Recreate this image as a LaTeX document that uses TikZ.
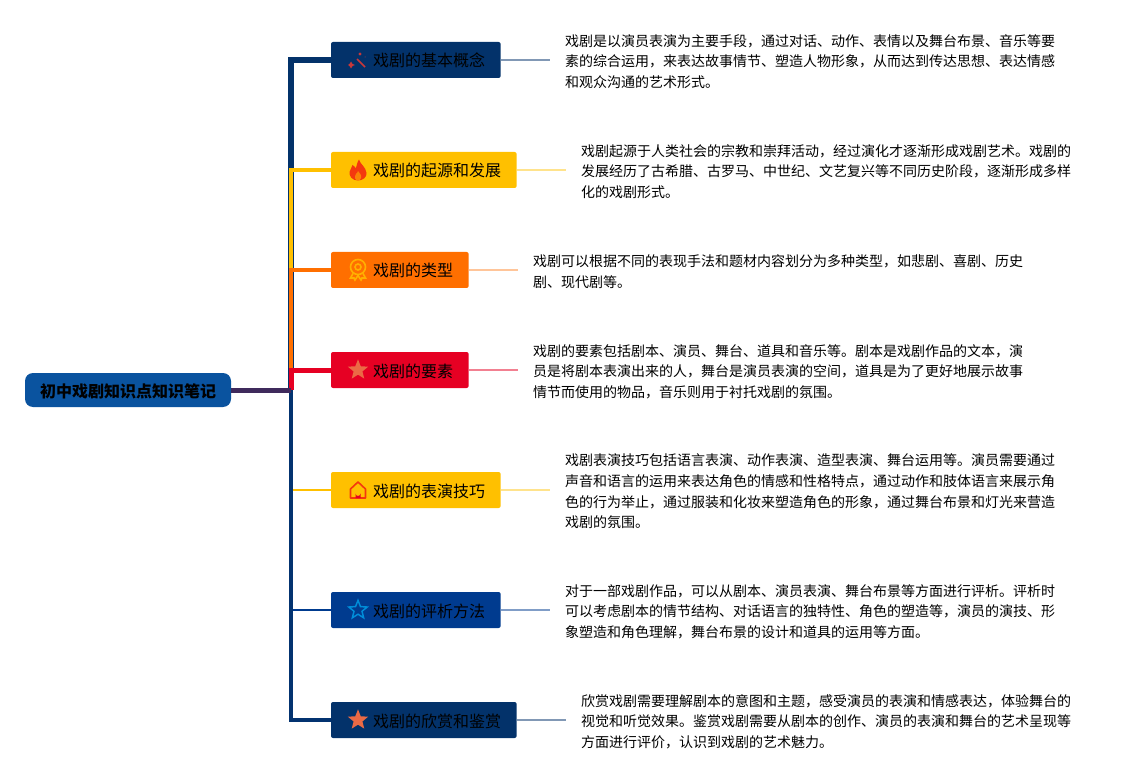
\documentclass[tikz,border=0pt]{standalone}
\usepackage{fontspec}
\setmainfont{Noto Sans CJK SC}
\usepackage{xcolor}
\usetikzlibrary{shapes.geometric,positioning,calc}

\definecolor{rootblue}{HTML}{0A539F}
\definecolor{navy}{HTML}{03326A}
\definecolor{cobalt}{HTML}{003B8F}
\definecolor{amber}{HTML}{FFC000}
\definecolor{tangerine}{HTML}{FF6F00}
\definecolor{crimson}{HTML}{E60023}
\definecolor{plum}{HTML}{3F2A5C}
\definecolor{flame}{HTML}{F4380E}
\definecolor{coral}{HTML}{EB6A45}
\definecolor{wandred}{HTML}{C8383A}

\begin{document}
\begin{tikzpicture}[
			x=0.75pt,
			y=-0.75pt,
			line join=miter,
			rootbox/.style={rounded corners=6pt, fill=rootblue, minimum height=25.5pt, text height=12pt, text depth=1.5pt, inner xsep=11.25pt, inner ysep=0pt, outer sep=0pt, font=\fontsize{12pt}{14pt}\selectfont\bfseries},
			topicbox/.style={rounded corners=1.5pt, fill=#1, minimum height=27pt, text height=12pt, text depth=1.5pt, inner xsep=11.7pt, inner ysep=0pt, outer sep=0pt, font=\fontsize{12pt}{14pt}\selectfont, execute at begin node={\hspace*{19.8pt}}},
			notetext/.style={align=left, yshift=-1.1pt, inner xsep=11.6pt, inner ysep=0pt, outer sep=0pt, font=\fontsize{10.5pt}{15.4pt}\selectfont},
			iconstar/.style={star, star points=5, star point ratio=2.3, inner sep=0pt, minimum size=16pt},
			leaf/.style={draw=#1, line width=1.5pt}
		]
		\useasboundingbox (0,0) rectangle (1141,780);

		\node[rootbox] (root) at (128,390) {初中戏剧知识点知识笔记};
		\coordinate (junction) at (291,390);

		\node[topicbox=navy, anchor=west] (concept) at (331,60) {戏剧的基本概念};
		\node[topicbox=amber, anchor=west] (origin) at (331,170) {戏剧的起源和发展};
		\node[topicbox=tangerine, anchor=west] (genre) at (331,270) {戏剧的类型};
		\node[topicbox=crimson, anchor=west] (element) at (331,370) {戏剧的要素};
		\node[topicbox=amber, anchor=west] (skill) at (331,490) {戏剧的表演技巧};
		\node[topicbox=cobalt, anchor=west] (review) at (331,610) {戏剧的评析方法};
		\node[topicbox=navy, anchor=west] (appreciate) at (331,720) {戏剧的欣赏和鉴赏};

		\node[notetext, right=36.75pt of concept] (conceptnote) {
			戏剧是以演员表演为主要手段，通过对话、动作、表情以及舞台布景、音乐等要\\
			素的综合运用，来表达故事情节、塑造人物形象，从而达到传达思想、表达情感\\
			和观众沟通的艺术形式。
		};
		\node[notetext, right=36.75pt of origin] (originnote) {
			戏剧起源于人类社会的宗教和崇拜活动，经过演化才逐渐形成戏剧艺术。戏剧的\\
			发展经历了古希腊、古罗马、中世纪、文艺复兴等不同历史阶段，逐渐形成多样\\
			化的戏剧形式。
		};
		\node[notetext, right=36.75pt of genre] (genrenote) {
			戏剧可以根据不同的表现手法和题材内容划分为多种类型，如悲剧、喜剧、历史\\
			剧、现代剧等。
		};
		\node[notetext, right=36.75pt of element] (elementnote) {
			戏剧的要素包括剧本、演员、舞台、道具和音乐等。剧本是戏剧作品的文本，演\\
			员是将剧本表演出来的人，舞台是演员表演的空间，道具是为了更好地展示故事\\
			情节而使用的物品，音乐则用于衬托戏剧的氛围。
		};
		\node[notetext, right=36.75pt of skill] (skillnote) {
			戏剧表演技巧包括语言表演、动作表演、造型表演、舞台运用等。演员需要通过\\
			声音和语言的运用来表达角色的情感和性格特点，通过动作和肢体语言来展示角\\
			色的行为举止，通过服装和化妆来塑造角色的形象，通过舞台布景和灯光来营造\\
			戏剧的氛围。
		};
		\node[notetext, right=36.75pt of review] (reviewnote) {
			对于一部戏剧作品，可以从剧本、演员表演、舞台布景等方面进行评析。评析时\\
			可以考虑剧本的情节结构、对话语言的独特性、角色的塑造等，演员的演技、形\\
			象塑造和角色理解，舞台布景的设计和道具的运用等方面。
		};
		\node[notetext, right=36.75pt of appreciate] (appreciatenote) {
			欣赏戏剧需要理解剧本的意图和主题，感受演员的表演和情感表达，体验舞台的\\
			视觉和听觉效果。鉴赏戏剧需要从剧本的创作、演员的表演和舞台的艺术呈现等\\
			方面进行评价，认识到戏剧的艺术魅力。
		};

		% trunk, lower branches first
		\draw[draw=amber, line width=1.5pt] (junction) |- (skill.west);
		\draw[draw=cobalt, line width=1.5pt] (junction) |- (review.west);
		\draw[draw=navy!85!cobalt, line width=2.6pt] (junction) |- (appreciate.west);

		% trunk, upper branches
		\draw[draw=navy, line width=4.5pt] (junction) |- (concept.west);
		\draw[draw=amber, line width=3pt] (junction) |- (origin.west);
		\draw[draw=tangerine, line width=3pt] (junction) |- (genre.west);
		\draw[draw=crimson, line width=3.75pt] (junction) |- (element.west);
		\draw[draw=plum, line width=3.75pt] (root.east) -- (junction);

		\draw[leaf=navy!50] (concept.east) -- (concept.east -| conceptnote.west);
		\draw[leaf=amber!45] (origin.east) -- (origin.east -| originnote.west);
		\draw[leaf=tangerine!40] (genre.east) -- (genre.east -| genrenote.west);
		\draw[leaf=crimson!50] (element.east) -- (element.east -| elementnote.west);
		\draw[leaf=amber!45] (skill.east) -- (skill.east -| skillnote.west);
		\draw[leaf=cobalt!50] (review.east) -- (review.east -| reviewnote.west);
		\draw[leaf=navy!50] (appreciate.east) -- (appreciate.east -| appreciatenote.west);

		% icons
		\begin{scope}[shift={(358,60)}, draw=wandred, fill=wandred]
			\draw[line width=1.3pt] (-1,-1) -- (7,7);
			\fill (-7,1.5) -- (-5.5,4) -- (-3,5) -- (-5.5,6) -- (-7,8.5) -- (-8.5,6) -- (-10,5) -- (-8.5,4) -- cycle;
			\fill (2,-6) circle (1.6);
			\fill (7,-3) circle (0.5);
		\end{scope}
		\begin{scope}[shift={(358,170)}]
			\fill[flame] (0,10.5) .. controls (-6,10.5) and (-9,6) .. (-8.5,2) .. controls (-8,-1) and (-6,-2) .. (-5.5,-5) .. controls (-3.5,-4) and (-3,-3) .. (-2.5,-1.5) .. controls (-1,-4) and (-1,-8) .. (1,-10.5) .. controls (2,-6) and (8,-3) .. (8.5,3) .. controls (9,7) and (5,10.5) .. (0,10.5) -- cycle;
			\fill[amber!55!flame] (0,10.5) .. controls (-3,10.5) and (-4,7) .. (-2,4) .. controls (-1,3) and (0,2) .. (0,1) .. controls (2,3) and (4,6) .. (3,8) .. controls (2.5,10) and (1,10.5) .. (0,10.5) -- cycle;
		\end{scope}
		\begin{scope}[shift={(358,270)}, draw=amber!80!tangerine, line width=1.2pt]
			\draw (0,-3) circle (7.5);
			\draw (0,-3) circle (3);
			\draw (-5,3.5) -- (-7.5,8) -- (-4,8) -- (-3,10) -- (0,5.5) -- (3,10) -- (4,8) -- (7.5,8) -- (5,3.5);
		\end{scope}
		\node[iconstar, fill=coral] (elementicon) at (358,370) {};
		\begin{scope}[shift={(358,490)}, draw=flame, line width=1.2pt, line join=round]
			\draw (-7.5,8) -- (-7.5,-1) -- (0,-8) -- (7.5,-1) -- (7.5,8) -- cycle;
			\fill[crimson] (-2.5,8) -- (-2.5,3.5) arc (180:0:2.5) -- (2.5,8) -- cycle;
		\end{scope}
		\node[iconstar, draw=blue!35!cyan!85!black, line width=1.1pt, minimum size=14.5pt] (reviewicon) at (358,610) {};
		\node[iconstar, fill=coral] (appreciateicon) at (358,720) {};
	\end{tikzpicture}
\end{document}
